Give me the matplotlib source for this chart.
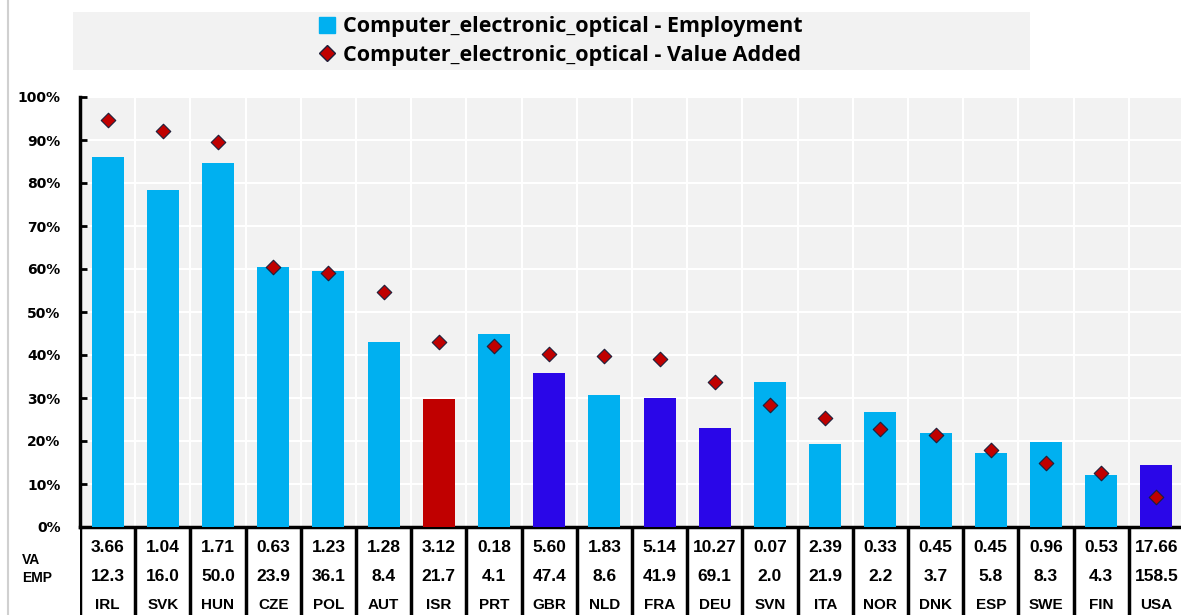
import matplotlib
matplotlib.use('Agg')
import matplotlib.pyplot as plt
from matplotlib.patches import Rectangle
from matplotlib.lines import Line2D

# datos
countries = ['IRL', 'SVK', 'HUN', 'CZE', 'POL', 'AUT', 'ISR', 'PRT', 'GBR', 'NLD',
             'FRA', 'DEU', 'SVN', 'ITA', 'NOR', 'DNK', 'ESP', 'SWE', 'FIN', 'USA']
employment = [86.0, 78.4, 84.6, 60.5, 59.5, 43.0, 29.8, 44.9, 35.8, 30.8,
              30.1, 23.1, 33.8, 19.3, 26.7, 21.9, 17.1, 19.7, 12.0, 14.4]
value_added = [94.7, 92.1, 89.5, 60.5, 59.0, 54.7, 43.0, 42.1, 40.2, 39.8,
               39.0, 33.7, 28.4, 25.3, 22.9, 21.5, 18.0, 15.0, 12.6, 7.0]
va_labels = ['3.66', '1.04', '1.71', '0.63', '1.23', '1.28', '3.12', '0.18', '5.60', '1.83',
             '5.14', '10.27', '0.07', '2.39', '0.33', '0.45', '0.45', '0.96', '0.53', '17.66']
emp_labels = ['12.3', '16.0', '50.0', '23.9', '36.1', '8.4', '21.7', '4.1', '47.4', '8.6',
              '41.9', '69.1', '2.0', '21.9', '2.2', '3.7', '5.8', '8.3', '4.3', '158.5']
highlight_red = ['ISR']
highlight_blue = ['GBR', 'FRA', 'DEU', 'USA']

LIGHT = '#00b0f0'
RED = '#c00000'
PURPLE = '#2a06e8'
BG = '#f2f2f2'

W, H = 1181, 615
fig = plt.figure(figsize=(W / 100, H / 100), dpi=100)

def px(x0, y0, x1, y1):
    # convierte pixeles (arriba-izquierda) a coordenadas de figura
    return [x0 / W, 1 - y1 / H, (x1 - x0) / W, (y1 - y0) / H]

ax = fig.add_axes(px(80, 97, W, 527))
ax.set_facecolor(BG)

x = list(range(len(countries)))
colors = []
for c in countries:
    if c in highlight_red:
        colors.append(RED)
    elif c in highlight_blue:
        colors.append(PURPLE)
    else:
        colors.append(LIGHT)

ax.bar(x, employment, width=0.58, color=colors, zorder=3)
ax.scatter(x, value_added, marker='D', s=55, color=RED, edgecolor='#1f1f3a',
           linewidth=0.8, zorder=4)

xmax = -0.5 + (W - 80) / 55.2
ax.set_xlim(-0.5, xmax)
ax.set_ylim(0, 100)
ax.set_yticks(range(0, 101, 10))
ax.set_yticklabels([f'{v}%' for v in range(0, 101, 10)], fontweight='bold', fontsize=10)
ax.set_xticks([])
ax.tick_params(axis='y', direction='in', length=5, width=2, pad=14)

for v in range(10, 101, 10):
    ax.axhline(v, color='white', lw=1.5, zorder=1)
for i in range(len(countries)):
    ax.axvline(i + 0.5, color='white', lw=1.5, zorder=1)

for s in ['top', 'right']:
    ax.spines[s].set_visible(False)
ax.spines['left'].set_linewidth(2.5)
ax.spines['bottom'].set_linewidth(2.5)

# tabla debajo del eje
tab = fig.add_axes(px(80, 529, W, H))
tab.set_xlim(-0.5, xmax)
tab.set_ylim(0, 3)
tab.axis('off')
for i in range(len(countries) + 1):
    tab.axvline(i - 0.5, color='black', lw=2.5)
for i, c in enumerate(countries):
    tab.text(i, 2.35, va_labels[i], ha='center', va='center', fontsize=12.5,
             fontweight='bold', family='Liberation Sans')
    tab.text(i, 1.35, emp_labels[i], ha='center', va='center', fontsize=12.5,
             fontweight='bold', family='Liberation Sans')
    tab.text(i, 0.35, c, ha='center', va='center', fontsize=11,
             fontweight='bold', family='Liberation Sans')

fig.text(22 / W, 1 - 560 / H, 'VA', fontsize=10, fontweight='bold',
         family='Liberation Sans', va='center')
fig.text(22 / W, 1 - 578 / H, 'EMP', fontsize=10, fontweight='bold',
         family='Liberation Sans', va='center')

# borde gris a la izquierda
fig.add_artist(Line2D([8 / W, 8 / W], [0, 1], color='#d0d0d0', lw=1.5,
                      transform=fig.transFigure))

# leyenda con fondo gris
fig.patches.append(Rectangle((73 / W, 1 - 70 / H), 957 / W, 58 / H,
                             transform=fig.transFigure, facecolor=BG,
                             edgecolor='none', zorder=0))
handles = [Line2D([], [], marker='s', color=LIGHT, linestyle='none', markersize=11),
           Line2D([], [], marker='D', color=RED, markeredgecolor='#1f1f3a',
                  linestyle='none', markersize=8)]
labels = ['Computer_electronic_optical - Employment',
          'Computer_electronic_optical - Value Added']
fig.legend(handles, labels, loc='center', bbox_to_anchor=(0.474, 1 - 41 / H),
           frameon=False, prop={'family': 'Open Sans', 'weight': 'bold', 'size': 15.5},
           handletextpad=0.3, labelspacing=0.35, handlelength=0.9, borderpad=0)

fig.savefig('out.png', dpi=100)
